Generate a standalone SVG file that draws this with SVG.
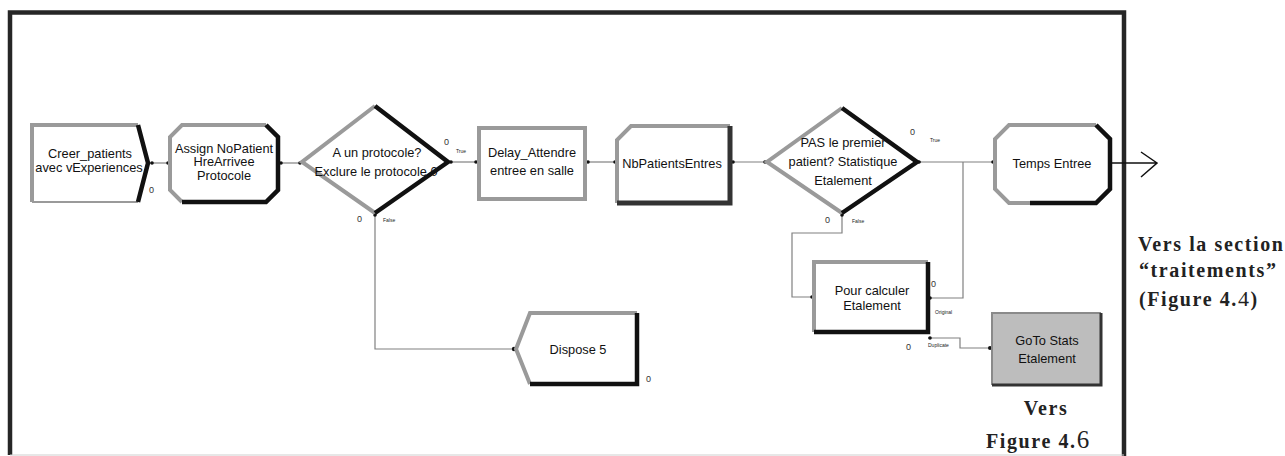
<svg xmlns="http://www.w3.org/2000/svg" width="1285" height="456" viewBox="0 0 1285 456">
<style>
.lt{fill:none;stroke:#9a9a9a;stroke-width:4;stroke-linejoin:miter}
.dk{fill:none;stroke:#111;stroke-width:4.5;stroke-linejoin:miter}
.bg{fill:#fff;stroke:none}
.t{font-family:"Liberation Sans",Arial,sans-serif;font-size:12.8px;fill:#111;text-anchor:middle}
.s{font-family:"Liberation Sans",Arial,sans-serif;font-size:5px;fill:#222}
.z{font-family:"Liberation Sans",Arial,sans-serif;font-size:9px;fill:#333}
.c{fill:none;stroke:#808080;stroke-width:1.2}
.d{fill:#111}
.r{font-family:"Liberation Serif","Times New Roman",serif;font-weight:bold;font-size:20px;fill:#222;letter-spacing:1.6px}
</style>
<rect x="0" y="0" width="1285" height="456" fill="#fff"/>
<g id="frame">
<path d="M10,455 V12.5 H1124 V456" fill="none" stroke="#262626" stroke-width="4.5"/>
<line x1="10" y1="455" x2="1124" y2="455" stroke="#d0d0d0" stroke-width="1.2"/>
</g>
<g id="connectors">
<path class="c" d="M150,163 H170"/>
<path class="c" d="M278,163 H302"/>
<path class="c" d="M448,162 H477"/>
<path class="c" d="M587,162 H617"/>
<path class="c" d="M730,162 H767"/>
<path class="c" d="M917,162 H995"/>
<path class="c" d="M963,162 V298 H928"/>
<path class="c" d="M842,213 V233 H792 V297 H814"/>
<path class="c" d="M375,213 V349 H516"/>
<path class="c" d="M928,338 H960 V348 H992"/>
<path d="M1110,163 H1157 M1141,152 L1157,163 L1141,177" fill="none" stroke="#111" stroke-width="1.5"/>
<circle class="d" cx="152" cy="163" r="1.8"/><circle class="d" cx="168" cy="163" r="1.8"/>
<circle class="d" cx="281" cy="163" r="1.8"/><circle class="d" cx="300" cy="163" r="1.8"/>
<circle class="d" cx="451" cy="162" r="1.8"/><circle class="d" cx="476" cy="162" r="1.8"/>
<circle class="d" cx="588" cy="162" r="1.8"/><circle class="d" cx="615" cy="162" r="1.8"/>
<circle class="d" cx="733" cy="162" r="1.8"/><circle class="d" cx="765" cy="162" r="1.8"/>
<circle class="d" cx="919" cy="162" r="1.8"/><circle class="d" cx="993" cy="162" r="1.8"/>
<circle class="d" cx="842" cy="215" r="1.8"/><circle class="d" cx="812" cy="297" r="1.8"/>
<circle class="d" cx="930" cy="298" r="1.8"/><circle class="d" cx="930" cy="338" r="1.8"/>
<circle class="d" cx="990" cy="348" r="2"/>
<circle class="d" cx="375" cy="215" r="1.8"/><circle class="d" cx="514" cy="349" r="2.2"/>
</g>
<g id="creer">
<polygon class="bg" points="32,125 138,125 148,163 138,202 32,202"/>
<polyline class="lt" points="32,202 32,125 138,125"/>
<line x1="32" y1="202" x2="138" y2="202" stroke="#9a9a9a" stroke-width="2"/>
<polyline class="dk" points="138,125 148,163 138,202"/>
<text class="t" x="90" y="158">Creer_patients</text>
<text class="t" x="89" y="172">avec vExperiences</text>
<text class="z" x="149" y="193">0</text>
</g>
<g id="assign">
<polygon class="bg" points="182,125 266,125 278,137 278,190 266,202 182,202 170,190 170,137"/>
<polyline class="lt" points="266,125 182,125 170,137 170,190 182,202"/>
<polyline class="dk" points="266,125 278,137 278,190 266,202 182,202"/>
<text class="t" x="224" y="153">Assign NoPatient</text>
<text class="t" x="224" y="166">HreArrivee</text>
<text class="t" x="224" y="180">Protocole</text>
</g>
<g id="decide1">
<polygon class="bg" points="302,162 375,106 448,162 375,213"/>
<polyline class="lt" points="375,106 302,162 375,213"/>
<polyline class="dk" points="375,106 448,162 375,213"/>
<text class="t" x="377" y="157">A un protocole?</text>
<text class="t" x="376" y="176">Exclure le protocole 0</text>
<text class="z" x="444" y="145">0</text>
<text class="s" x="456" y="153">True</text>
<text class="z" x="357" y="222">0</text>
<text class="s" x="383" y="222">False</text>
</g>
<g id="delay">
<rect x="479" y="128" width="106" height="71" fill="#fff" stroke="#9a9a9a" stroke-width="4"/>
<text class="t" x="532" y="157">Delay_Attendre</text>
<text class="t" x="532" y="175">entree en salle</text>
</g>
<g id="nbpatients">
<polygon class="bg" points="631,126 730,126 730,203 617,203 617,140"/>
<polyline class="lt" points="617,203 617,140 631,126 730,126"/>
<polyline class="dk" points="730,126 730,203 617,203" style="stroke:#333;stroke-width:5"/>
<text class="t" x="672" y="168">NbPatientsEntres</text>
</g>
<g id="decide2">
<polygon class="bg" points="767,162 842,108 917,162 842,213"/>
<polyline class="lt" points="842,108 767,162 842,213"/>
<polyline class="dk" points="842,108 917,162 842,213"/>
<text class="t" x="843" y="147">PAS le premier</text>
<text class="t" x="843" y="166">patient? Statistique</text>
<text class="t" x="843" y="185">Etalement</text>
<text class="z" x="910" y="135">0</text>
<text class="s" x="930" y="142">True</text>
<text class="z" x="825" y="223">0</text>
<text class="s" x="852" y="223">False</text>
</g>
<g id="temps">
<polygon class="bg" points="1009,125 1096,125 1110,139 1110,189 1096,203 1009,203 995,189 995,139"/>
<polyline class="lt" points="1096,125 1009,125 995,139 995,189 1009,203 1030,203"/>
<polyline class="dk" points="1096,125 1110,139 1110,189 1096,203 1030,203"/>
<text class="t" x="1052" y="168">Temps Entree</text>
</g>
<g id="pourcalculer">
<rect x="814" y="262" width="114" height="70" fill="#fff"/>
<polyline class="lt" points="814,332 814,262 928,262"/>
<polyline class="dk" points="928,262 928,332 814,332"/>
<text class="t" x="872" y="295">Pour calculer</text>
<text class="t" x="872" y="310">Etalement</text>
<text class="z" x="931" y="287">0</text>
<text class="s" x="935" y="314">Original</text>
<text class="z" x="906" y="350">0</text>
<text class="s" x="928" y="347">Duplicate</text>
</g>
<g id="goto">
<rect x="992" y="313" width="109" height="72" fill="#bdbdbd"/>
<polyline points="992,385 992,313 1101,313" fill="none" stroke="#8a8a8a" stroke-width="2"/>
<polyline points="1101,313 1101,385 992,385" fill="none" stroke="#333" stroke-width="3"/>
<text class="t" x="1047" y="345">GoTo Stats</text>
<text class="t" x="1047" y="363">Etalement</text>
</g>
<g id="dispose">
<polygon class="bg" points="516,349 530,313 637,313 637,384 530,384"/>
<polyline class="lt" points="530,384 516,349 530,313 637,313"/>
<polyline class="dk" points="637,313 637,384 530,384"/>
<text class="t" x="578" y="354">Dispose 5</text>
<text class="z" x="646" y="382">0</text>
</g>
<g id="notes">
<text class="r" x="1138" y="251">Vers la section</text>
<text class="r" x="1139" y="277">“traitements”</text>
<text class="r" x="1139" y="306">(Figure 4.<tspan font-weight="normal" font-size="22px">4</tspan>)</text>
<text class="r" x="1046" y="415" text-anchor="middle">Vers</text>
<text class="r" x="986" y="448">Figure 4.<tspan font-weight="normal" font-size="25px">6</tspan></text>
</g>
</svg>
